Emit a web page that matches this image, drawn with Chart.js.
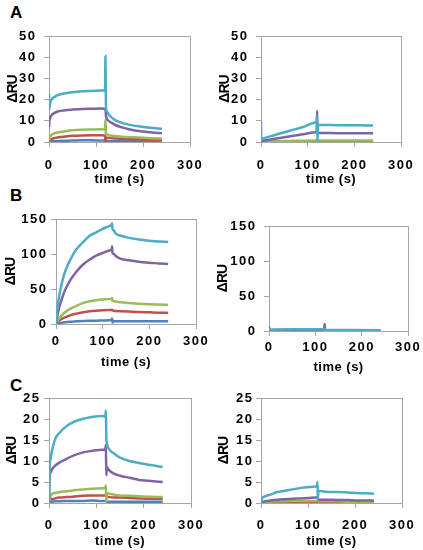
<!DOCTYPE html>
<html>
<head>
<meta charset="utf-8">
<script src="https://cdn.jsdelivr.net/npm/chart.js@4.4.1/dist/chart.umd.min.js"></script>
<style>
  body { margin: 0; background: #fff; width: 423px; height: 550px; position: relative; overflow: hidden;
         font-family: "Liberation Sans", Arial, sans-serif; }
  canvas { position: absolute; }
  .lbl { position: absolute; font-weight: bold; font-size: 17px; line-height: 17px; color: #000; }
</style>
</head>
<body>
<div class="lbl" style="left:10px;top:4px">A</div>
<div class="lbl" style="left:10px;top:187px">B</div>
<div class="lbl" style="left:10px;top:377px">C</div>

<canvas id="a1" width="212" height="170" style="left:0;top:20px"></canvas>
<canvas id="a2" width="211" height="170" style="left:212px;top:20px"></canvas>
<canvas id="b1" width="212" height="175" style="left:0;top:200px"></canvas>
<canvas id="b2" width="211" height="180" style="left:212px;top:200px"></canvas>
<canvas id="c1" width="212" height="165" style="left:0;top:385px"></canvas>
<canvas id="c2" width="211" height="165" style="left:212px;top:385px"></canvas>

<script>
// tick labels
var xTicks = [0, 100, 200, 300];
var yTicksA = [0, 10, 20, 30, 40, 50];
var yTicksB = [0, 50, 100, 150];
var yTicksC = [0, 5, 10, 15, 20, 25];

// panel A, left
var tA1 = [0, 0.5, 2, 5, 10, 20, 35, 50, 70, 90, 110, 119, 120, 121, 123, 127, 133, 142, 155, 170, 190, 215, 240];
var a1Cyan   = [23, 15.5, 18, 19.8, 21, 22.2, 23, 23.5, 23.9, 24.1, 24.3, 24.3, 40.5, 17, 14.5, 13, 11.6, 10.2, 9, 8.2, 7.4, 6.7, 6.2];
var a1Purple = [7, 9, 11, 12.5, 13.5, 14.5, 15, 15.3, 15.6, 15.7, 15.8, 15.7, 15.5, 12.5, 11, 10, 9, 7.9, 6.9, 6, 5.2, 4.6, 4.1];
var a1Green  = [0.5, 1.5, 2.5, 3.3, 4, 4.6, 5.1, 5.5, 5.8, 5.9, 6, 5.9, 10.5, 4, 3.5, 3.2, 3, 2.8, 2.5, 2.3, 2.1, 1.8, 1.6];
var a1Red    = [0.2, 0.6, 1, 1.4, 1.8, 2.2, 2.6, 2.9, 3.1, 3.2, 3.2, 3.1, 0, 2.2, 2, 1.9, 1.8, 1.6, 1.5, 1.4, 1.3, 1.1, 1.0];
var a1Blue   = [0.1, 0.2, 0.3, 0.3, 0.4, 0.5, 0.6, 0.7, 0.8, 0.8, 0.7, 0.7, 0.6, 0.4, 0.4, 0.4, 0.3, 0.3, 0.3, 0.3, 0.3, 0.3, 0.3];

// panel A, right
var tA2 = [0, 0.5, 2, 30, 60, 90, 117, 119, 120, 121, 122, 150, 180, 210, 240];
var a2Cyan   = [9.8, 1.2, 1.4, 3.3, 5.2, 7.1, 9.2, 9.3, 12, 0.5, 8, 8, 7.9, 7.9, 7.8];
var a2Purple = [0.3, 0.4, 0.5, 1.5, 2.6, 3.7, 4.6, 4.7, 14.7, 4.2, 4.2, 4.2, 4.1, 4.1, 4.1];
var a2Green  = [0.2, 0.3, 0.3, 0.4, 0.5, 0.6, 0.7, 0.7, 1.0, 0.7, 0.7, 0.7, 0.7, 0.7, 0.7];
var a2Red    = [0.1, 0.1, 0.1, 0.1, 0.1, 0.1, 0.1, 0.1, 0.3, 0.1, 0.1, 0.1, 0.1, 0.1, 0.1];
var a2Blue   = [0.05, 0.05, 0.05, 0.05, 0.05, 0.05, 0.05, 0.05, 0.05, 0.05, 0.05, 0.05, 0.05, 0.05, 0.05];

// panel B, left
var tB1 = [0, 1, 3, 7, 12, 19, 30, 44, 58, 72, 86, 100, 114, 119, 120, 121, 123, 128, 139, 156, 177, 199, 220, 240];
var b1Cyan   = [0, 8, 21.5, 40.7, 57, 74, 91, 107, 117, 126, 131, 136, 140, 142, 143.5, 136, 134, 129, 126, 123, 120.6, 119, 118, 117];
var b1Purple = [0, 4, 12, 24, 35, 48, 62, 75, 85, 92, 97.6, 101.4, 105, 106.7, 111, 101, 100.5, 97, 93, 91, 89, 87.6, 86.6, 85.6];
var b1Green  = [0, 1.5, 3.8, 8, 12, 16.7, 21.5, 26, 30, 32.5, 34, 35, 35.6, 36, 37, 33.5, 33, 32, 31, 30, 29, 28.2, 27.7, 27.3];
var b1Red    = [0, 1, 2.4, 4.8, 7.2, 9.6, 12.4, 14.8, 16.7, 18.2, 19.1, 19.6, 19.9, 20, 20.3, 19.3, 19, 18.6, 18.2, 17.7, 17.2, 16.7, 16.2, 15.8];
var b1Blue   = [0, 0.2, 0.5, 1.2, 1.9, 2.6, 3.3, 3.8, 4.3, 4.6, 4.8, 5, 5.2, 5.3, 8, 2, 3.8, 3.8, 3.8, 3.8, 3.8, 3.8, 3.8, 3.8];

// panel B, right
var tB2 = [0, 0.5, 2, 60, 118, 119, 120, 121, 123, 180, 240];
var b2Cyan   = [1, 1, 2, 2.4, 2.5, 2.5, 3, 1.4, 1.4, 1.3, 1.2];
var b2Purple = [7, 0.5, 1, 1.5, 1.6, 1.6, 10, 1, 1, 0.8, 0.7];
var b2Green  = [0.5, 0.3, 0.5, 0.8, 0.8, 0.8, 1.5, 0.5, 0.5, 0.5, 0.5];
var b2Red    = [0.2, 0.2, 0.3, 0.4, 0.4, 0.4, 0.6, 0.3, 0.3, 0.3, 0.3];
var b2Blue   = [0.1, 0.1, 0.1, 0.1, 0.1, 0.1, 0.1, 0.1, 0.1, 0.1, 0.1];

// panel C, left
var tC1 = [0, 1.3, 3.3, 6.7, 13, 23, 37, 50, 70, 90, 113, 119, 120, 121, 122, 127, 137, 150, 170, 190, 210, 240];
var c1Cyan   = [0, 8.2, 10.6, 12.6, 15.2, 16.8, 18.3, 19.2, 20, 20.5, 20.7, 20.6, 22, 15.5, 14.3, 12.8, 11.8, 10.8, 10, 9.5, 9.1, 8.6];
var c1Purple = [0, 6.6, 7.3, 8.1, 8.9, 9.7, 10.5, 11.2, 12, 12.4, 12.7, 12.7, 13.8, 6.6, 8.5, 7.8, 7.0, 6.5, 6.0, 5.5, 5.3, 5.0];
var c1Green  = [0, 1, 1.6, 2.2, 2.4, 2.6, 2.8, 3.0, 3.2, 3.4, 3.5, 3.5, 4.2, 0.2, 2.3, 2.2, 2.0, 1.8, 1.7, 1.6, 1.5, 1.4];
var c1Red    = [0, 0.5, 0.8, 0.9, 1.1, 1.3, 1.4, 1.5, 1.7, 1.8, 1.8, 1.8, 2.0, 1.5, 1.5, 1.4, 1.3, 1.3, 1.2, 1.1, 1.0, 1.0];
var c1Blue   = [0, 0.2, 0.3, 0.3, 0.4, 0.4, 0.5, 0.5, 0.5, 0.6, 0.5, 0.5, 0.5, 0.3, 0.3, 0.3, 0.3, 0.3, 0.3, 0.3, 0.3, 0.3];

// panel C, right
var tC2 = [0, 1, 9, 20, 35, 50, 69, 85, 102, 116, 119, 120, 121, 122, 130, 143, 163, 183, 203, 220, 240];
var c2Cyan   = [0, 0.8, 1.6, 2.0, 2.6, 2.9, 3.3, 3.6, 3.8, 3.9, 3.9, 5.0, 0.8, 2.9, 2.8, 2.6, 2.6, 2.5, 2.4, 2.3, 2.2];
var c2Purple = [0, 0.2, 0.4, 0.6, 0.8, 0.9, 1.0, 1.1, 1.2, 1.3, 1.3, 1.4, 0.8, 0.8, 0.8, 0.8, 0.7, 0.7, 0.6, 0.6, 0.6];
var c2Green  = [0, 0.1, 0.2, 0.3, 0.4, 0.4, 0.5, 0.5, 0.5, 0.5, 0.5, 0.6, 0.4, 0.4, 0.4, 0.4, 0.4, 0.3, 0.3, 0.3, 0.3];
var c2Red    = [0, 0.1, 0.1, 0.1, 0.1, 0.1, 0.1, 0.1, 0.1, 0.1, 0.1, 0.2, 0.1, 0.1, 0.1, 0.1, 0.1, 0.1, 0.1, 0.1, 0.1];
var c2Blue   = [0, 0.05, 0.05, 0.05, 0.05, 0.05, 0.05, 0.05, 0.05, 0.05, 0.05, 0.05, 0.05, 0.05, 0.05, 0.05, 0.05, 0.05, 0.05, 0.05, 0.05];

// cyan first so it is drawn on top
var lineColors = ['#4bacc6', '#8064a2', '#9bbb59', '#c0504d', '#4f81bd'];
var axisGray = '#a6a6a6';
var fontFam = '"Liberation Sans", Arial, sans-serif';

var plotBox = {
  id: 'plotBox',
  beforeDatasetsDraw: function(chart) {
    var a = chart.chartArea, ctx = chart.ctx;
    ctx.save();
    ctx.strokeStyle = axisGray;
    ctx.lineWidth = 1;
    ctx.strokeRect(Math.round(a.left) + 0.5, Math.round(a.top) + 0.5,
                   Math.round(a.right - a.left), Math.round(a.bottom - a.top));
    ctx.restore();
  }
};

// the original figure uses spaced-out lettering; wrap a scale's draw step
function spaced(fn, sp) {
  return function() {
    var c = this.ctx;
    c.save();
    c.letterSpacing = sp;
    fn.apply(this, arguments);
    c.restore();
  };
}

function makePanel(id, times, series, yTicks, p) {
  var datasets = series.map(function(vals, i) {
    return {
      data: vals.map(function(v, k) { return { x: times[k], y: v }; }),
      borderColor: lineColors[i],
      borderWidth: 2.5,
      pointRadius: 0,
      fill: false,
      cubicInterpolationMode: 'monotone'
    };
  });

  new Chart(document.getElementById(id), {
    type: 'line',
    data: { datasets: datasets },
    options: {
      responsive: false,
      animation: false,
      layout: { padding: { top: p.top, right: p.right, bottom: p.bottom, left: 0 } },
      plugins: { legend: { display: false }, tooltip: { enabled: false } },
      scales: {
        x: {
          type: 'linear', min: 0, max: 300,
          afterBuildTicks: function(s) { s.ticks = xTicks.map(function(v) { return { value: v }; }); },
          afterFit: function(s) {
            s.height = p.xh;
            if (!s._spaced) {
              s.drawLabels = spaced(s.drawLabels, '1.5px');
              s.drawTitle = spaced(s.drawTitle, '0.5px');
              s._spaced = true;
            }
          },
          grid: { drawOnChartArea: false, tickLength: 5, color: axisGray },
          border: { display: false },
          ticks: { padding: p.xpad, color: '#000', maxRotation: 0, autoSkip: false,
                   font: { family: fontFam, size: 13, weight: 'bold' } },
          title: { display: true, text: 'time (s)', color: '#000', padding: { top: 0, bottom: 0 },
                   font: { family: fontFam, size: 13, weight: 'bold', lineHeight: '15.6px' } }
        },
        y: {
          min: yTicks[0], max: yTicks[yTicks.length - 1],
          afterBuildTicks: function(s) { s.ticks = yTicks.map(function(v) { return { value: v }; }); },
          afterFit: function(s) {
            s.width = p.yw;
            if (!s._spaced) {
              s.drawLabels = spaced(s.drawLabels, '1.5px');
              s.drawTitle = spaced(s.drawTitle, '-1px');
              s._spaced = true;
            }
          },
          grid: { drawOnChartArea: false, tickLength: 5, color: axisGray },
          border: { display: false },
          ticks: { padding: p.ypad, color: '#000',
                   font: { family: fontFam, size: 13, weight: 'bold' } },
          title: { display: true, text: '\u0394RU', color: '#000', padding: { top: p.tpad, bottom: 0 },
                   font: { family: fontFam, size: 14, weight: 'bold', lineHeight: '15.6px' } }
        }
      }
    },
    plugins: [plotBox]
  });
}

makePanel('a1', tA1, [a1Cyan, a1Purple, a1Green, a1Red, a1Blue], yTicksA,
  { top: 16, right: 14, bottom: 3.2, yw: 49, xh: 44.8, xpad: 11, ypad: 7.5, tpad: 5.2 });
makePanel('a2', tA2, [a2Cyan, a2Purple, a2Green, a2Red, a2Blue], yTicksA,
  { top: 16, right: 13, bottom: 3.2, yw: 49, xh: 44.8, xpad: 11, ypad: 7.5, tpad: 5.2 });
makePanel('b1', tB1, [b1Cyan, b1Purple, b1Green, b1Red, b1Blue], yTicksB,
  { top: 19, right: 14, bottom: 5.2, yw: 56, xh: 45.8, xpad: 5, ypad: 3.5, tpad: 3.2 });
makePanel('b2', tB2, [b2Cyan, b2Purple, b2Green, b2Red, b2Blue], yTicksB,
  { top: 26, right: 13, bottom: 5.2, yw: 57, xh: 43.8, xpad: 4, ypad: 7.5, tpad: 3.2 });
makePanel('c1', tC1, [c1Cyan, c1Purple, c1Green, c1Red, c1Blue], yTicksC,
  { top: 13, right: 14, bottom: 1.2, yw: 49, xh: 45.8, xpad: 10, ypad: 3.5, tpad: 4.2 });
makePanel('c2', tC2, [c2Cyan, c2Purple, c2Green, c2Red, c2Blue], yTicksC,
  { top: 13, right: 13, bottom: 1.2, yw: 49, xh: 45.8, xpad: 10, ypad: 2.5, tpad: 4.2 });
</script>
</body>
</html>
